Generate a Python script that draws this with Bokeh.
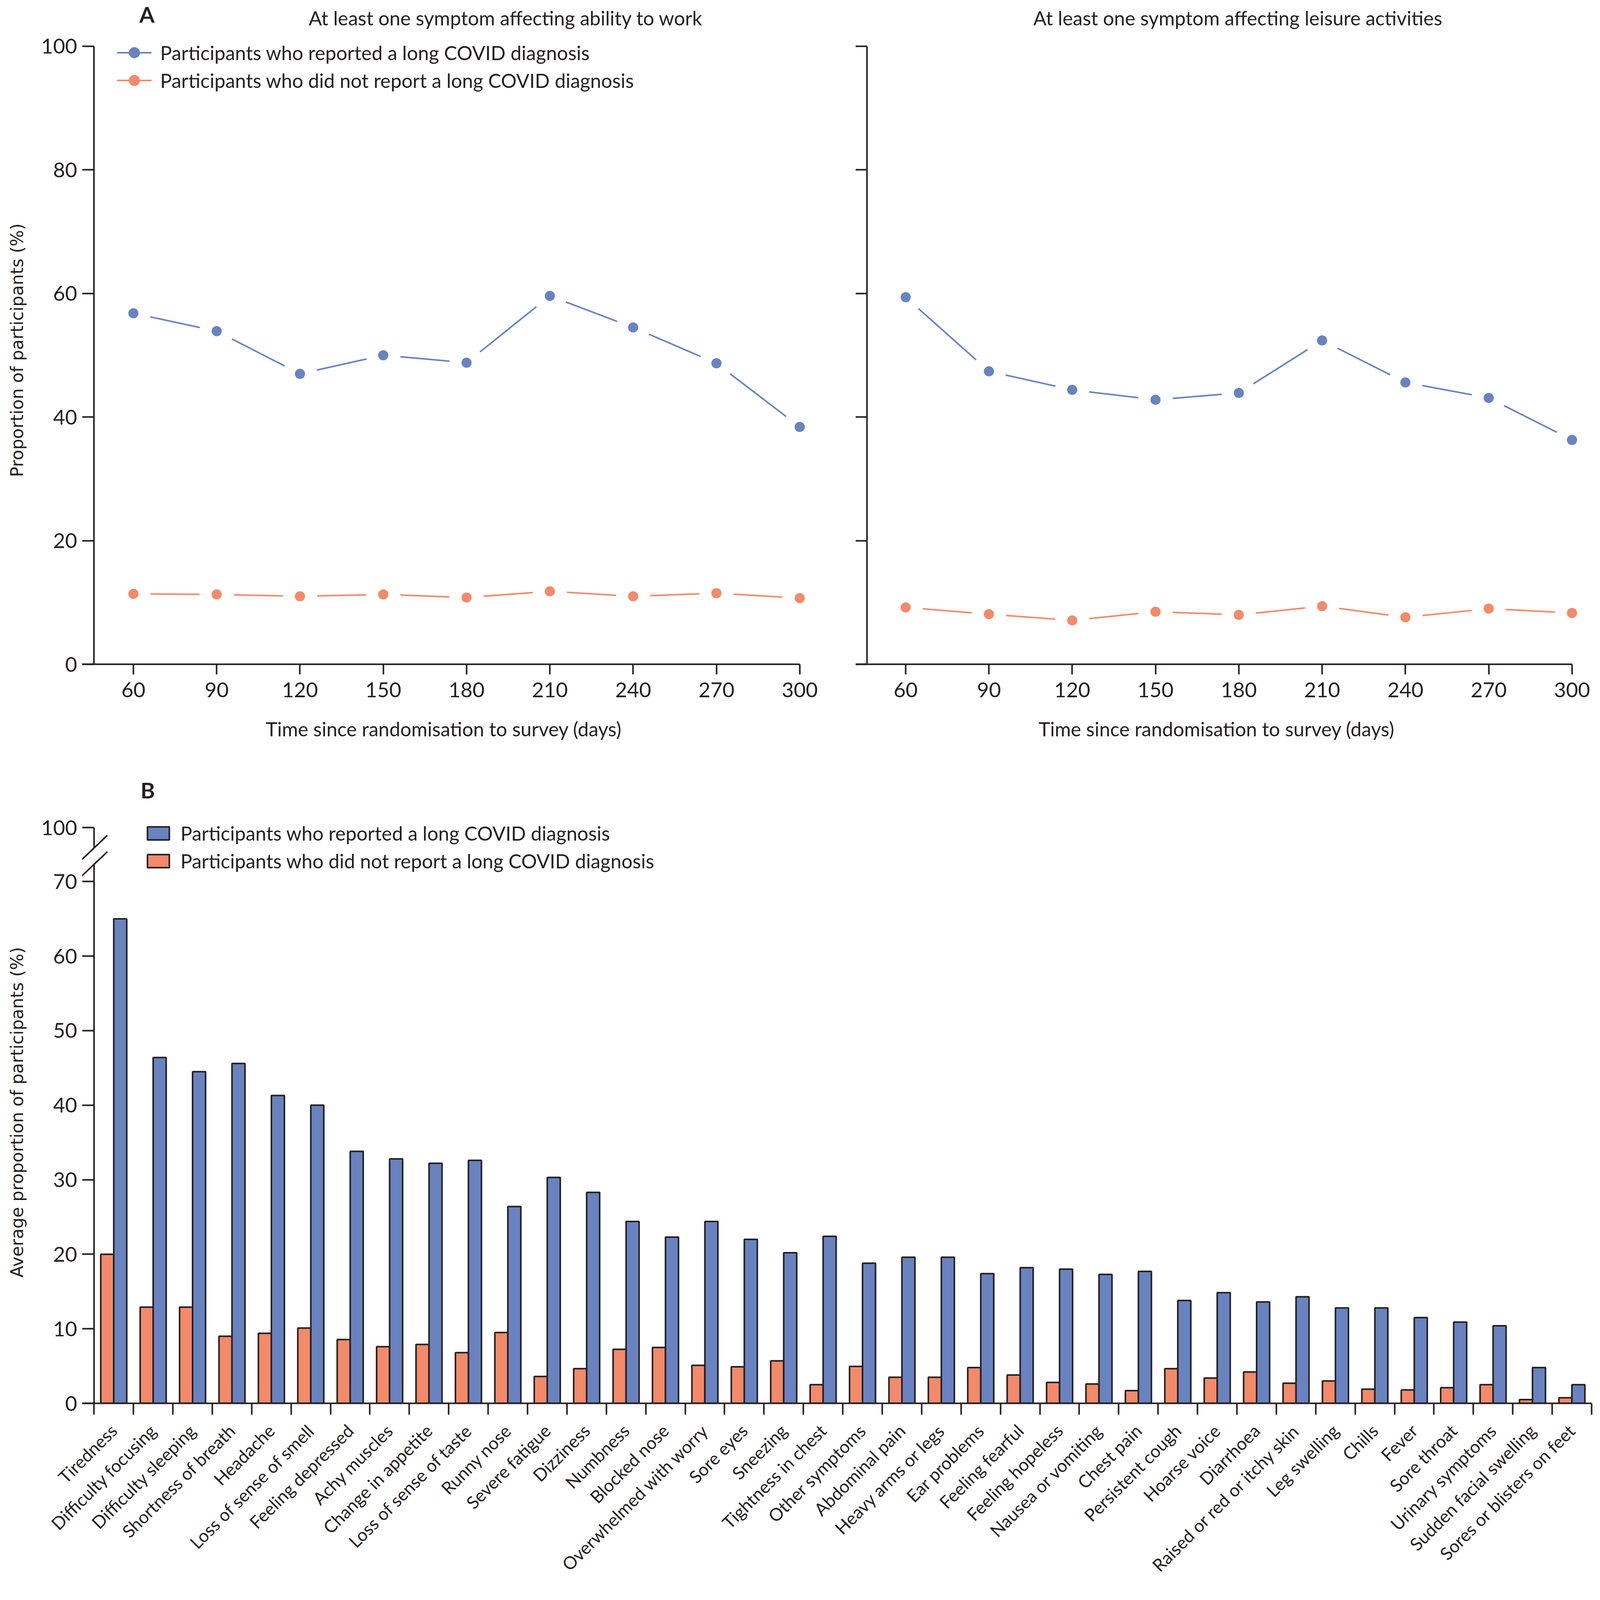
import numpy as np
from bokeh.plotting import figure
from bokeh.models import (Range1d, FixedTicker, Legend, LegendItem, Label)
from bokeh.layouts import column, row
from bokeh.embed import file_html
from bokeh.resources import INLINE

# ---------------- data ----------------
days = [60, 90, 120, 150, 180, 210, 240, 270, 300]
work_long = [56.8, 53.9, 47.0, 50.0, 48.8, 59.6, 54.5, 48.7, 38.4]
work_no_long = [11.4, 11.3, 11.0, 11.3, 10.8, 11.8, 11.0, 11.5, 10.7]
leisure_long = [59.4, 47.4, 44.4, 42.8, 43.9, 52.4, 45.6, 43.1, 36.3]
leisure_no_long = [9.2, 8.1, 7.1, 8.5, 8.0, 9.4, 7.6, 9.0, 8.3]
a_yticks = [0, 20, 40, 60, 80, 100]

symptoms = [
    "Tiredness", "Difficulty focusing", "Difficulty sleeping", "Shortness of breath",
    "Headache", "Loss of sense of smell", "Feeling depressed", "Achy muscles",
    "Change in appetite", "Loss of sense of taste", "Runny nose", "Severe fatigue",
    "Dizziness", "Numbness", "Blocked nose", "Overwhelmed with worry", "Sore eyes",
    "Sneezing", "Tightness in chest", "Other symptoms", "Abdominal pain",
    "Heavy arms or legs", "Ear problems", "Feeling fearful", "Feeling hopeless",
    "Nausea or vomiting", "Chest pain", "Persistent cough", "Hoarse voice",
    "Diarrhoea", "Raised or red or itchy skin", "Leg swelling", "Chills", "Fever",
    "Sore throat", "Urinary symptoms", "Sudden facial swelling", "Sores or blisters on feet",
]
long_covid = [65.0, 46.4, 44.5, 45.6, 41.3, 40.0, 33.8, 32.8, 32.2, 32.6, 26.4, 30.3,
              28.3, 24.4, 22.3, 24.4, 22.0, 20.2, 22.4, 18.8, 19.6, 19.6, 17.4, 18.2,
              18.0, 17.3, 17.7, 13.8, 14.85, 13.6, 14.3, 12.8, 12.8, 11.5, 10.9, 10.4,
              4.8, 2.5]
no_long_covid = [20.0, 12.9, 12.9, 9.0, 9.4, 10.1, 8.55, 7.6, 7.9, 6.8, 9.5, 3.6,
                 4.65, 7.25, 7.5, 5.1, 4.9, 5.7, 2.5, 4.95, 3.5, 3.5, 4.8, 3.8,
                 2.8, 2.6, 1.7, 4.65, 3.4, 4.2, 2.7, 3.0, 1.9, 1.8, 2.1, 2.5,
                 0.5, 0.75]
b_yticks = [0, 10, 20, 30, 40, 50, 60, 70]
b_break_tick_label = "100"

TITLE_WORK = "At least one symptom affecting ability to work"
TITLE_LEISURE = "At least one symptom affecting leisure activities"
LABEL_LONG = "Participants who reported a long COVID diagnosis"
LABEL_NO = "Participants who did not report a long COVID diagnosis"

# ---------------- style / layout ----------------
FONT = "Lato"
YFONT = "DejaVu Sans"
INK = "#231f20"
BLUE = "#6883c0"
ORANGE = "#f38a69"
TICK_FS = "53px"
TEXT_FS = "50px"
YLAB_FS = "44px"

PX_DAY = 7.108
X_END = 302
A1_START, A1_AXIS = 41.57, 45.79
A2_START, A2_AXIS = 42.0, 46.07
A_YTOP = 101.64
H_HEAD_A = 82
A_TOPB = 10
A_FRAME = 1608
A_BOTTOM = 249
H_A = A_TOPB + A_FRAME + A_BOTTOM
H_HEAD_B = 113
B_TOPB = 40
B_TOP = 77.25          # axis position used for the "100" tick above the break
B_YEND = 78.09
B_FRAME = 1490
B_BOTTOM = 480
H_B = B_TOPB + B_FRAME + B_BOTTOM

L1 = 210
F1 = int(round((X_END - A1_START) * PX_DAY))
R1 = 89
W1 = L1 + F1 + R1
L2 = 40
F2 = int(round((X_END - A2_START) * PX_DAY))
R2 = 40
W2 = L2 + F2 + R2
W = W1 + W2


def base_style(p):
    p.xgrid.visible = False
    p.ygrid.visible = False
    p.outline_line_color = None
    p.background_fill_color = "white"
    p.border_fill_color = "white"


def header(height):
    h = figure(width=W, height=height, x_range=Range1d(0, W), y_range=Range1d(0, height),
               output_backend="svg", toolbar_location=None, title=None,
               x_axis_location=None, y_axis_location=None,
               min_border_left=0, min_border_right=0, min_border_top=0, min_border_bottom=0)
    base_style(h)
    return h


def add_text(h, x, y, text, size, bold=False):
    h.add_layout(Label(x=x, y=y, text=text, text_font=FONT, text_font_size=size,
                       text_font_style="bold" if bold else "normal", text_color=INK,
                       text_align="center", text_baseline="middle"))


def panel_a(long_vals, no_vals, width, b_left, b_right, x_start, axis_x, first):
    p = figure(width=width, height=H_A, x_range=Range1d(x_start, X_END), y_range=Range1d(0, A_YTOP),
               output_backend="svg", toolbar_location=None, title=None,
               min_border_left=b_left, min_border_right=b_right,
               min_border_top=A_TOPB, min_border_bottom=A_BOTTOM)
    base_style(p)

    xa = p.xaxis[0]
    xa.ticker = FixedTicker(ticks=days)
    xa.bounds = (x_start, 300)
    xa.axis_line_width = 4
    xa.axis_line_color = INK
    xa.major_tick_out = 26
    xa.major_tick_in = 0
    xa.major_tick_line_width = 4
    xa.major_tick_line_color = INK
    xa.minor_tick_line_color = None
    xa.major_label_text_font = FONT
    xa.major_label_text_font_size = TICK_FS
    xa.major_label_text_color = INK
    xa.major_label_standoff = 20
    xa.axis_label = "Time since randomisation to survey (days)"
    xa.axis_label_text_font = FONT
    xa.axis_label_text_font_size = TEXT_FS
    xa.axis_label_text_font_style = "normal"
    xa.axis_label_text_color = INK
    xa.axis_label_standoff = 48

    ya = p.yaxis[0]
    ya.ticker = FixedTicker(ticks=a_yticks)
    ya.axis_line_color = None
    ya.major_tick_in = int(round((axis_x - x_start) * PX_DAY))
    ya.major_tick_out = 0
    ya.major_tick_line_width = 4
    ya.major_tick_line_color = INK
    ya.minor_tick_line_color = None
    if first:
        ya.major_label_text_font = FONT
        ya.major_label_text_font_size = TICK_FS
        ya.major_label_text_color = INK
        ya.major_label_standoff = 13
        ya.axis_label = "Proportion of participants (%)"
        ya.axis_label_text_font = YFONT
        ya.axis_label_text_font_size = YLAB_FS
        ya.axis_label_text_font_style = "normal"
        ya.axis_label_text_color = INK
        ya.axis_label_standoff = 33
    else:
        ya.major_label_overrides = {t: "" for t in a_yticks}
        ya.major_label_standoff = 0

    # detached y axis line from 0 to 100
    p.segment(x0=[axis_x], y0=[0], x1=[axis_x], y1=[100], line_color=INK, line_width=4)

    renderers = []
    for vals, col in ((long_vals, BLUE), (no_vals, ORANGE)):
        ln = p.line(days, vals, line_color=col, line_width=4)
        p.scatter(days, vals, size=88, fill_color="white", line_color=None)
        mk = p.scatter(days, vals, size=26, fill_color=col, line_color=None)
        renderers.append((ln, mk))

    if first:
        leg = Legend(items=[LegendItem(label=LABEL_LONG, renderers=list(renderers[0])),
                            LegendItem(label=LABEL_NO, renderers=list(renderers[1]))],
                     location=(89, 1459), orientation="vertical",
                     glyph_width=89, glyph_height=71, spacing=0, padding=0, margin=0,
                     label_standoff=22, label_text_font=FONT, label_text_font_size=TEXT_FS,
                     label_text_color=INK, border_line_color=None, background_fill_alpha=0)
        p.add_layout(leg)
    return p


pA1 = panel_a(work_long, work_no_long, W1, L1, R1, A1_START, A1_AXIS, True)
pA2 = panel_a(leisure_long, leisure_no_long, W2, L2, R2, A2_START, A2_AXIS, False)

# header with panel letter and panel titles
hA = header(H_HEAD_A)
add_text(hA, 175, 46, "A", "56px", bold=True)
add_text(hA, L1 + F1 / 2 + 9, 37, TITLE_WORK, TEXT_FS)
add_text(hA, W1 + L2 + F2 / 2 + 8, 37, TITLE_LEISURE, TEXT_FS)

hB = header(H_HEAD_B)
add_text(hB, 177, 40, "B", "56px", bold=True)

# ---------------- panel B ----------------
n = len(symptoms)
idx = np.arange(n)
centers = idx + 0.5
pB = figure(width=W, height=H_B, x_range=Range1d(-0.3, n), y_range=Range1d(0, B_YEND),
            output_backend="svg", toolbar_location=None, title=None,
            min_border_left=L1, min_border_right=4,
            min_border_top=B_TOPB, min_border_bottom=B_BOTTOM)
base_style(pB)

xb = pB.xaxis[0]
xb.ticker = FixedTicker(ticks=list(centers), minor_ticks=list(range(n + 1)))
xb.major_label_overrides = {float(c): s for c, s in zip(centers, symptoms)}
xb.axis_line_width = 4
xb.axis_line_color = INK
xb.major_tick_in = 0
xb.major_tick_out = 0
xb.major_tick_line_color = None
xb.minor_tick_in = 0
xb.minor_tick_out = 29
xb.minor_tick_line_width = 4
xb.minor_tick_line_color = INK
xb.major_label_orientation = np.pi / 4
xb.major_label_text_font = FONT
xb.major_label_text_font_size = "45px"
xb.major_label_text_color = INK
xb.major_label_standoff = 33

yb = pB.yaxis[0]
yb.ticker = FixedTicker(ticks=b_yticks + [B_TOP])
yb.major_label_overrides = {B_TOP: b_break_tick_label}
yb.axis_line_color = None
yb.major_tick_in = 30
yb.major_tick_out = 0
yb.major_tick_line_width = 4
yb.major_tick_line_color = INK
yb.minor_tick_line_color = None
yb.major_label_text_font = FONT
yb.major_label_text_font_size = TICK_FS
yb.major_label_text_color = INK
yb.major_label_standoff = 13
yb.axis_label = "Average proportion of participants (%)"
yb.axis_label_text_font = YFONT
yb.axis_label_text_font_size = YLAB_FS
yb.axis_label_text_font_style = "normal"
yb.axis_label_text_color = INK
yb.axis_label_standoff = 33

# y axis line with a break between 70 and 100
pB.segment(x0=[0, 0], y0=[0, 74.53], x1=[0, 0], y1=[72.33, B_TOP], line_color=INK, line_width=4)
pB.segment(x0=[-0.32, -0.32], y0=[72.9, 70.7], x1=[0.337, 0.337], y1=[76.2, 74.0],
           line_color=INK, line_width=4)

bars_no = pB.vbar(x=centers - 0.165, top=no_long_covid, width=0.33, bottom=0,
                  fill_color=ORANGE, line_color=INK, line_width=4)
bars_long = pB.vbar(x=centers + 0.165, top=long_covid, width=0.33, bottom=0,
                    fill_color=BLUE, line_color=INK, line_width=4)

legB = Legend(items=[LegendItem(label=LABEL_LONG, renderers=[bars_long]),
                     LegendItem(label=LABEL_NO, renderers=[bars_no])],
              location=(160, 1358), orientation="vertical",
              glyph_width=70, glyph_height=42, spacing=11, padding=0, margin=0,
              label_standoff=22, label_text_font=FONT, label_text_font_size=TEXT_FS,
              label_text_color=INK, border_line_color=None, background_fill_alpha=0)
pB.add_layout(legB)

layout = column(hA, row(pA1, pA2), hB, pB)
open("out.html", "w").write(file_html(layout, INLINE))
